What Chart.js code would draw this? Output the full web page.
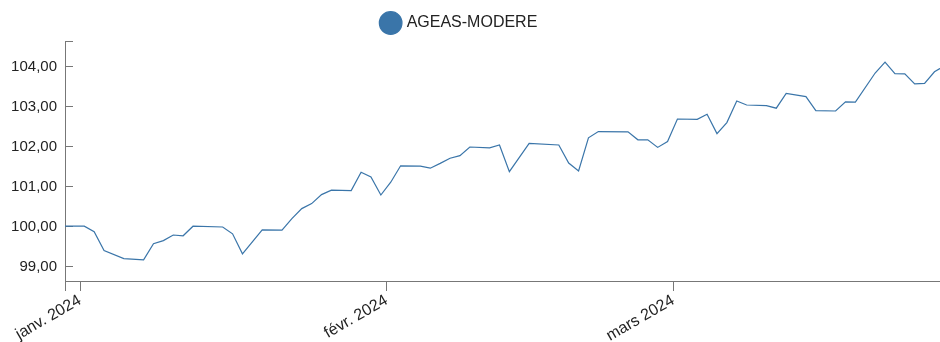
<!DOCTYPE html>
<html>
<head>
<meta charset="utf-8">
<script src="https://cdn.jsdelivr.net/npm/chart.js"></script>
<style>
  body { margin: 0; background: #fff; }
  #wrap { width: 940px; height: 342px; }
</style>
</head>
<body>
<div id="wrap"><canvas id="chart" width="940" height="342"></canvas></div>
<script>
// fund value series (daily quotes)
const seriesName = 'AGEAS-MODERE';
const quoteDates = [
  '2023-12-30', '2024-01-01', '2024-01-02', '2024-01-03', '2024-01-05', '2024-01-07',
  '2024-01-08', '2024-01-09', '2024-01-10', '2024-01-11', '2024-01-12', '2024-01-15',
  '2024-01-16', '2024-01-17', '2024-01-19', '2024-01-21', '2024-01-22', '2024-01-23',
  '2024-01-24', '2024-01-25', '2024-01-26', '2024-01-28', '2024-01-29', '2024-01-30',
  '2024-01-31', '2024-02-01', '2024-02-02', '2024-02-04', '2024-02-05', '2024-02-06',
  '2024-02-07', '2024-02-08', '2024-02-09', '2024-02-11', '2024-02-12', '2024-02-13',
  '2024-02-15', '2024-02-18', '2024-02-19', '2024-02-20', '2024-02-21', '2024-02-22',
  '2024-02-25', '2024-02-26', '2024-02-27', '2024-02-28', '2024-02-29', '2024-03-01',
  '2024-03-03', '2024-03-04', '2024-03-05', '2024-03-06', '2024-03-07', '2024-03-08',
  '2024-03-10', '2024-03-11', '2024-03-12', '2024-03-14', '2024-03-15', '2024-03-17',
  '2024-03-18', '2024-03-19', '2024-03-21', '2024-03-22', '2024-03-23', '2024-03-24',
  '2024-03-25', '2024-03-26', '2024-03-27', '2024-03-28'
];
const quoteValues = [
  100.01, 100.01, 99.87, 99.40, 99.20, 99.17,
  99.57, 99.65, 99.79, 99.77, 100.01, 99.99,
  99.82, 99.32, 99.92, 99.91, 100.20, 100.45,
  100.575, 100.80, 100.91, 100.90, 101.36, 101.24,
  100.79, 101.11, 101.52, 101.51, 101.46, 101.58,
  101.71, 101.775, 101.99, 101.97, 102.04, 101.375,
  102.08, 102.04, 101.59, 101.39, 102.22, 102.375,
  102.37, 102.17, 102.17, 101.98, 102.125, 102.69,
  102.68, 102.81, 102.325, 102.60, 103.14, 103.04,
  103.025, 102.96, 103.33, 103.25, 102.90, 102.89,
  103.12, 103.11, 103.84, 104.11, 103.825, 103.82,
  103.57, 103.58, 103.87, 104.02
];
const monthStarts = ['2024-01-01', '2024-02-01', '2024-03-01'];
const monthLabels = ['janv. 2024', 'févr. 2024', 'mars 2024'];
const yTickValues = [99, 100, 101, 102, 103, 104];

const DAY = 86400000;
const origin = Date.parse('2024-01-01');
const toDay = s => (Date.parse(s) - origin) / DAY;

// month ticks sit a little before midnight of the first day
const tickShift = -0.43;
const monthTickDays = monthStarts.map(s => toDay(s) + tickShift);

const xMin = -1.95, xMax = 86.56;
const yMin = 98.64, yMax = 104.64;

const lineColor = '#3a75a9';
const axisColor = '#777';
const textColor = '#222';
const fontFamily = "'Liberation Sans', Arial, sans-serif";

const points = quoteDates.map((d, i) => ({ x: toDay(d), y: quoteValues[i] }));

// nudge the legend a bit to the left so the label text is centred
const legendShift = {
  id: 'legendShift',
  afterLayout(chart) {
    if (chart.legend) {
      chart.legend.left -= 10;
      chart.legend.right -= 10;
    }
  }
};

new Chart(document.getElementById('chart'), {
  type: 'line',
  data: {
    datasets: [{
      label: seriesName,
      data: points,
      borderColor: lineColor,
      backgroundColor: lineColor,
      borderWidth: 1.2,
      pointRadius: 0,
      pointHoverRadius: 0,
      tension: 0,
      fill: false
    }]
  },
  options: {
    responsive: false,
    animation: false,
    devicePixelRatio: 1,
    layout: { padding: { top: 5, left: 0, right: 0, bottom: 0 } },
    plugins: {
      legend: {
        position: 'top',
        labels: {
          usePointStyle: true,
          pointStyle: 'circle',
          boxWidth: 16,
          boxHeight: 16,
          padding: 10,
          color: textColor,
          font: { family: fontFamily, size: 16 }
        }
      },
      tooltip: { enabled: false }
    },
    scales: {
      x: {
        type: 'linear',
        min: xMin,
        max: xMax,
        offset: false,
        afterBuildTicks(scale) {
          scale.ticks = [{ value: xMin }].concat(monthTickDays.map(v => ({ value: v })));
        },
        afterFit(scale) { scale.height = 61; },
        grid: {
          drawOnChartArea: false,
          drawTicks: true,
          tickLength: 10,
          tickColor: axisColor
        },
        border: { display: true, color: axisColor, width: 1 },
        ticks: {
          autoSkip: false,
          minRotation: 30,
          maxRotation: 30,
          padding: 0,
          color: textColor,
          font: { family: fontFamily, size: 16 },
          callback(value) {
            const idx = monthTickDays.findIndex(t => Math.abs(t - value) < 1e-6);
            return idx >= 0 ? monthLabels[idx] : '';
          }
        }
      },
      y: {
        type: 'linear',
        min: yMin,
        max: yMax,
        afterBuildTicks(scale) {
          scale.ticks = [{ value: yMin }]
            .concat(yTickValues.map(v => ({ value: v })))
            .concat([{ value: yMax }]);
        },
        afterFit(scale) { scale.width = 65; },
        grid: {
          drawOnChartArea: false,
          drawTicks: true,
          tickLength: -8,
          tickColor: axisColor
        },
        border: { display: true, color: axisColor, width: 1 },
        ticks: {
          padding: 16,
          color: textColor,
          font: { family: fontFamily, size: 15 },
          callback(value) {
            return yTickValues.includes(value) ? value.toFixed(2).replace('.', ',') : '';
          }
        }
      }
    }
  },
  plugins: [legendShift]
});
</script>
</body>
</html>
